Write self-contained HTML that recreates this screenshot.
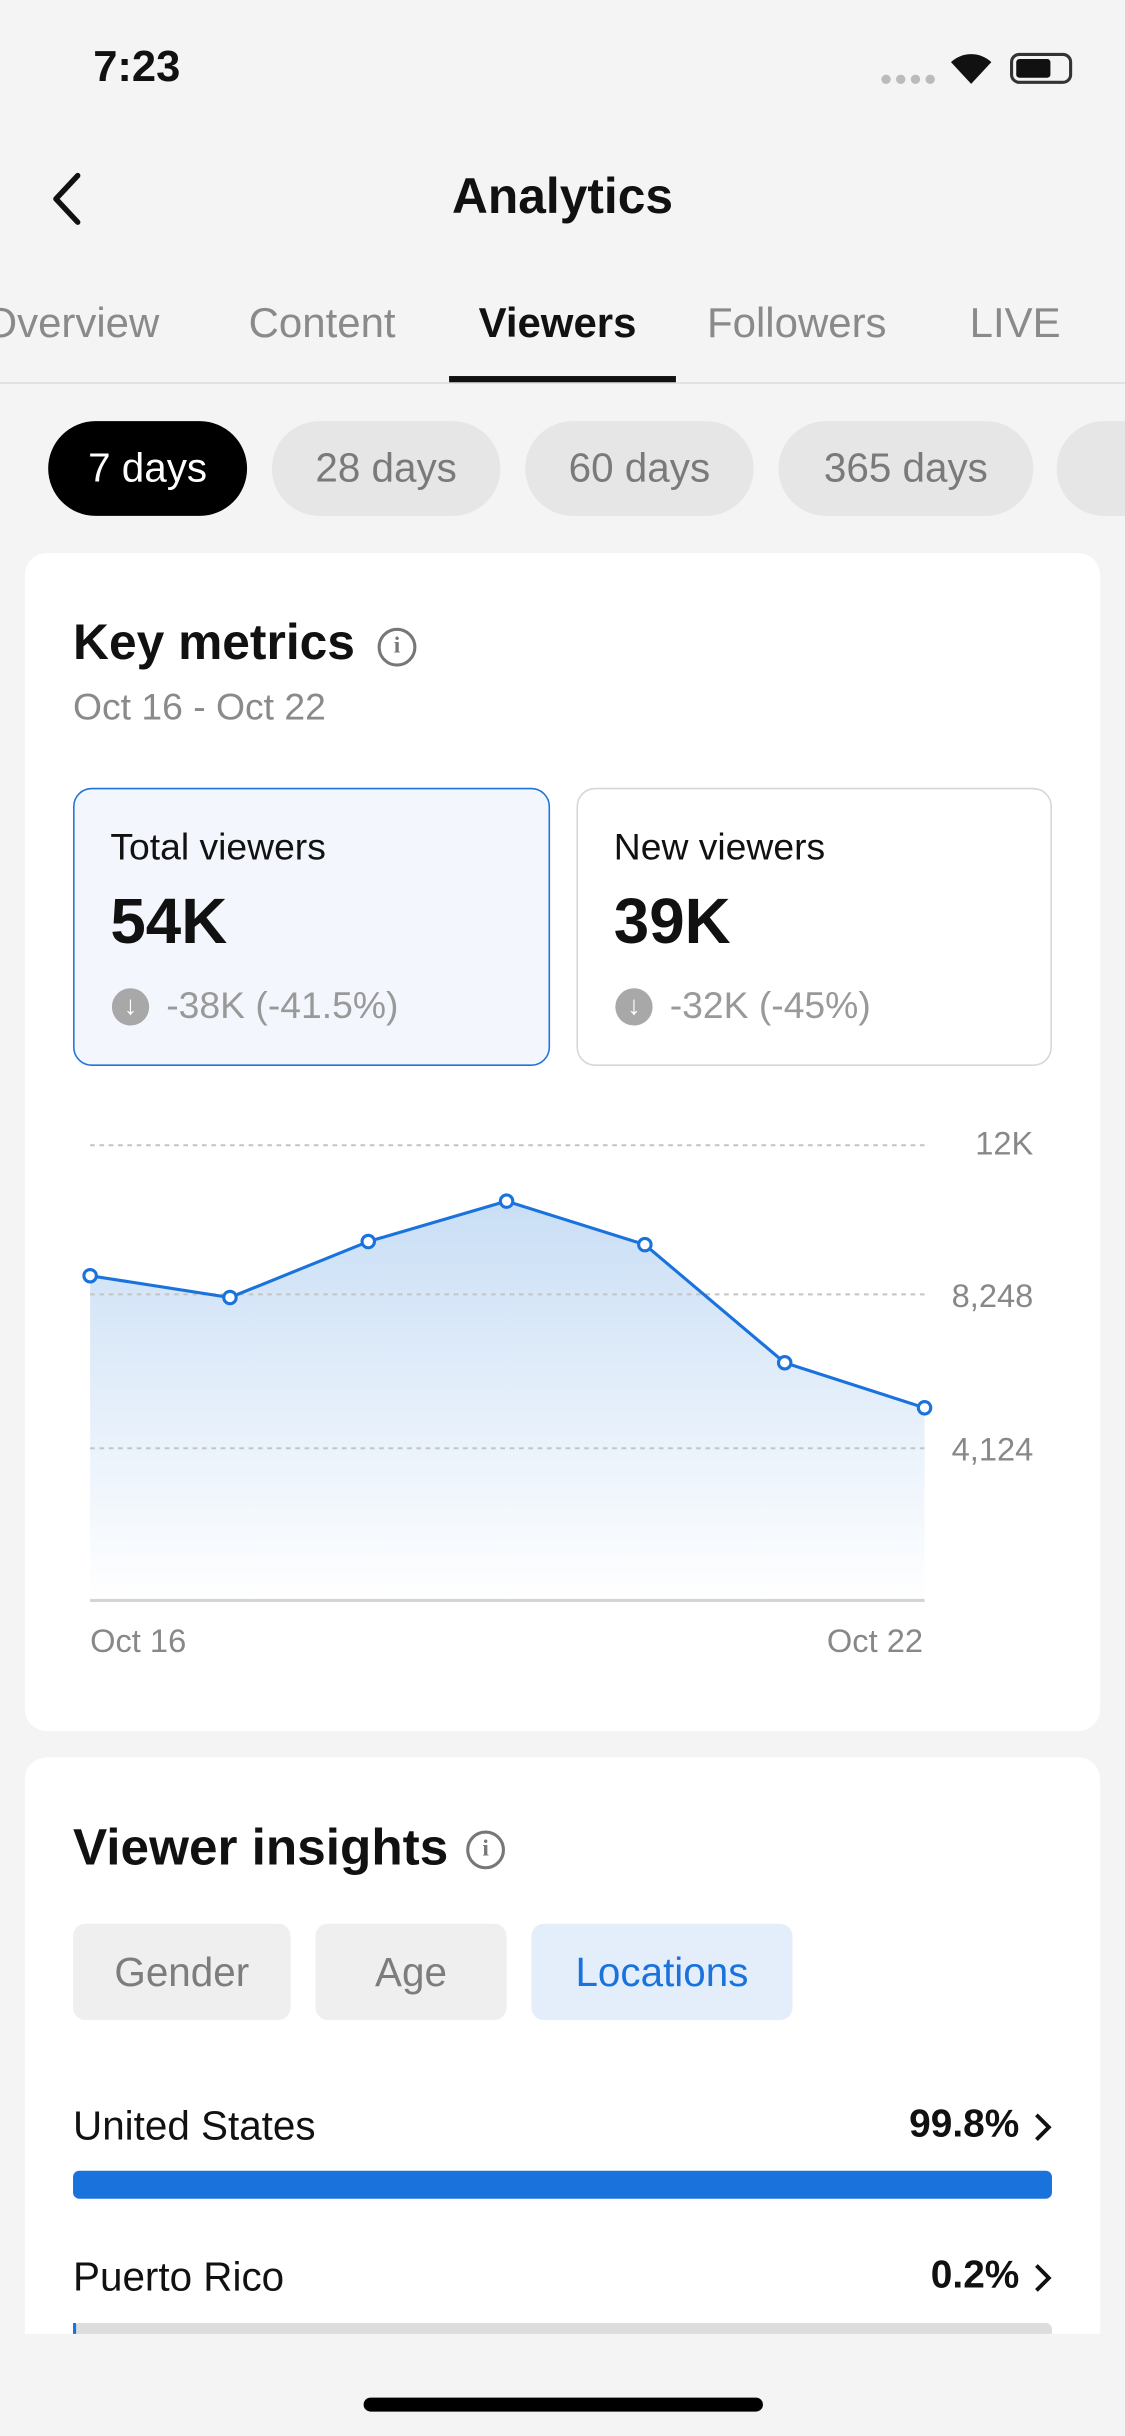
<!DOCTYPE html>
<html><head><meta charset="utf-8"><style>
html,body{margin:0;padding:0;background:#f4f4f4;}
body{width:1125px;height:2436px;overflow:hidden;position:relative;font-family:"Liberation Sans",sans-serif;}
#w{position:absolute;left:0;top:0;width:724px;height:1568px;transform:scale(1.55387);transform-origin:0 0;background:#f4f4f4;overflow:hidden;}
.a{position:absolute;white-space:nowrap;}
.tab{position:absolute;top:193px;font-size:27px;color:#8a8a8a;}
.pill{position:absolute;top:271px;height:61px;border-radius:31px;background:#e6e6e6;color:#7a7a7a;font-size:26px;line-height:61px;text-align:center;}
.card{position:absolute;left:16px;width:692px;background:#fff;border-radius:14px;}
.chip{position:absolute;top:1238px;height:62px;border-radius:8px;background:#efefef;color:#7d7d7d;font-size:26px;line-height:62px;text-align:center;}
.info{position:absolute;width:21px;height:21px;border:2px solid #777;border-radius:50%;font-size:15px;line-height:21px;text-align:center;color:#777;font-weight:bold;font-family:"Liberation Serif",serif;}
.dn{position:absolute;width:24px;height:24px;border-radius:50%;background:#a8a8a8;color:#fff;font-size:17px;line-height:24px;text-align:center;font-weight:bold;}
</style></head><body><div id="w">
<div class="a" style="left:60px;top:27px;font-size:28px;font-weight:bold;color:#111;">7:23</div>
<div class="a" style="left:566px;top:42px;font-size:14px;color:#bbb;letter-spacing:1px;">●●●●</div>
<svg class="a" style="left:610px;top:32px" width="30" height="24" viewBox="0 0 30 24"><path d="M15 22 L2 8 A19 19 0 0 1 28 8 Z" fill="#111"/></svg>
<div class="a" style="left:650px;top:34px;width:40px;height:20px;border:2px solid #333;border-radius:6px;box-sizing:border-box;"><div style="position:absolute;left:2px;top:2px;width:22px;height:12px;background:#111;border-radius:2px;"></div></div>
<svg class="a" style="left:30px;top:110px" width="26" height="36"><path d="M20 3 L6 18 L20 33" stroke="#111" stroke-width="3.5" fill="none" stroke-linecap="round" stroke-linejoin="round"/></svg>
<div class="a" style="left:0;width:724px;text-align:center;top:108px;font-size:32px;font-weight:bold;color:#111;">Analytics</div>
<div class="tab" style="left:-10px;">Overview</div>
<div class="tab" style="left:160px;">Content</div>
<div class="tab" style="left:308px;color:#111;font-weight:bold;">Viewers</div>
<div class="tab" style="left:455px;">Followers</div>
<div class="tab" style="left:624px;">LIVE</div>
<div class="a" style="left:0;top:246px;width:724px;height:1px;background:#ddd;"></div>
<div class="a" style="left:289px;top:242px;width:146px;height:4px;background:#111;"></div>
<div class="pill" style="left:31px;width:128px;background:#000;color:#fff;">7 days</div>
<div class="pill" style="left:175px;width:147px;">28 days</div>
<div class="pill" style="left:338px;width:147px;">60 days</div>
<div class="pill" style="left:501px;width:164px;">365 days</div>
<div class="pill" style="left:680px;width:100px;"></div>

<div class="card" style="top:356px;height:758px;"></div>
<div class="a" style="left:47px;top:395px;font-size:32px;font-weight:bold;color:#111;">Key metrics</div>
<div class="info" style="left:243px;top:404px;">i</div>
<div class="a" style="left:47px;top:442px;font-size:24px;color:#8a8a8a;">Oct 16 - Oct 22</div>
<div class="a" style="left:47px;top:507px;width:307px;height:179px;box-sizing:border-box;border:1.5px solid #1f74db;background:#f3f7fd;border-radius:12px;"></div>
<div class="a" style="left:371px;top:507px;width:306px;height:179px;box-sizing:border-box;border:1.5px solid #d6d6d6;border-radius:12px;"></div>
<div class="a" style="left:71px;top:532px;font-size:24px;color:#111;">Total viewers</div>
<div class="a" style="left:71px;top:570px;font-size:41px;font-weight:bold;color:#111;">54K</div>
<div class="dn" style="left:72px;top:636px;">↓</div>
<div class="a" style="left:107px;top:634px;font-size:24px;color:#999;">-38K (-41.5%)</div>
<div class="a" style="left:395px;top:532px;font-size:24px;color:#111;">New viewers</div>
<div class="a" style="left:395px;top:570px;font-size:41px;font-weight:bold;color:#111;">39K</div>
<div class="dn" style="left:396px;top:636px;">↓</div>
<div class="a" style="left:431px;top:634px;font-size:24px;color:#999;">-32K (-45%)</div>

<svg class="a" style="left:0;top:700px" width="724" height="380" viewBox="0 700 724 380">
<defs><linearGradient id="g" x1="0" y1="0" x2="0" y2="1"><stop offset="0" stop-color="#c9def5"/><stop offset="1" stop-color="#ffffff"/></linearGradient></defs>
<path d="M58 821 L148 835 L237 799 L326 773 L415 801 L505 877 L595 906 L595 1030 L58 1030 Z" fill="url(#g)"/>
<g stroke="#c4c4c4" stroke-width="1.3" stroke-dasharray="3 3"><line x1="58" y1="737" x2="595" y2="737"/><line x1="58" y1="833" x2="595" y2="833"/><line x1="58" y1="932" x2="595" y2="932"/></g>
<line x1="58" y1="1030" x2="595" y2="1030" stroke="#d4d4d4" stroke-width="2"/>
<polyline points="58,821 148,835 237,799 326,773 415,801 505,877 595,906" fill="none" stroke="#1a73dd" stroke-width="2"/>
<g fill="#fff" stroke="#1a73dd" stroke-width="2"><circle cx="58" cy="821" r="4"/><circle cx="148" cy="835" r="4"/><circle cx="237" cy="799" r="4"/><circle cx="326" cy="773" r="4"/><circle cx="415" cy="801" r="4"/><circle cx="505" cy="877" r="4"/><circle cx="595" cy="906" r="4"/></g>
<g font-family="Liberation Sans,sans-serif" font-size="21" fill="#888" text-anchor="end"><text x="665" y="743">12K</text><text x="665" y="841">8,248</text><text x="665" y="940">4,124</text><text x="594" y="1063">Oct 22</text></g>
<text x="58" y="1063" font-family="Liberation Sans,sans-serif" font-size="21" fill="#888">Oct 16</text>
</svg>

<div class="card" style="top:1131px;height:371px;border-radius:14px 14px 0 0;overflow:hidden;">
<div style="position:absolute;left:31px;top:364px;width:630px;height:10px;background:#ddd;border-radius:4px;"></div>
<div style="position:absolute;left:31px;top:364px;width:2px;height:10px;background:#1a73dd;"></div>
</div>
<div class="a" style="left:47px;top:1170px;font-size:33px;font-weight:bold;color:#111;">Viewer insights</div>
<div class="info" style="left:300px;top:1178px;">i</div>
<div class="chip" style="left:47px;width:140px;">Gender</div>
<div class="chip" style="left:203px;width:123px;">Age</div>
<div class="chip" style="left:342px;width:168px;background:#e4eefb;color:#1a73dd;">Locations</div>
<div class="a" style="left:47px;top:1353px;font-size:26px;color:#111;">United States</div>
<div class="a" style="right:68px;top:1353px;font-size:25px;color:#111;font-weight:bold;">99.8%</div>
<svg class="a" style="left:664px;top:1358px" width="14" height="22"><path d="M3 3 L11 11 L3 19" stroke="#111" stroke-width="2.5" fill="none"/></svg>
<div class="a" style="left:47px;top:1397px;width:630px;height:18px;background:#1a73dd;border-radius:4px;"></div>
<div class="a" style="left:47px;top:1450px;font-size:26px;color:#111;">Puerto Rico</div>
<div class="a" style="right:68px;top:1450px;font-size:25px;color:#111;font-weight:bold;">0.2%</div>
<svg class="a" style="left:664px;top:1455px" width="14" height="22"><path d="M3 3 L11 11 L3 19" stroke="#111" stroke-width="2.5" fill="none"/></svg>
<div class="a" style="left:234px;top:1543px;width:257px;height:9px;background:#000;border-radius:5px;"></div>
</div></body></html>
